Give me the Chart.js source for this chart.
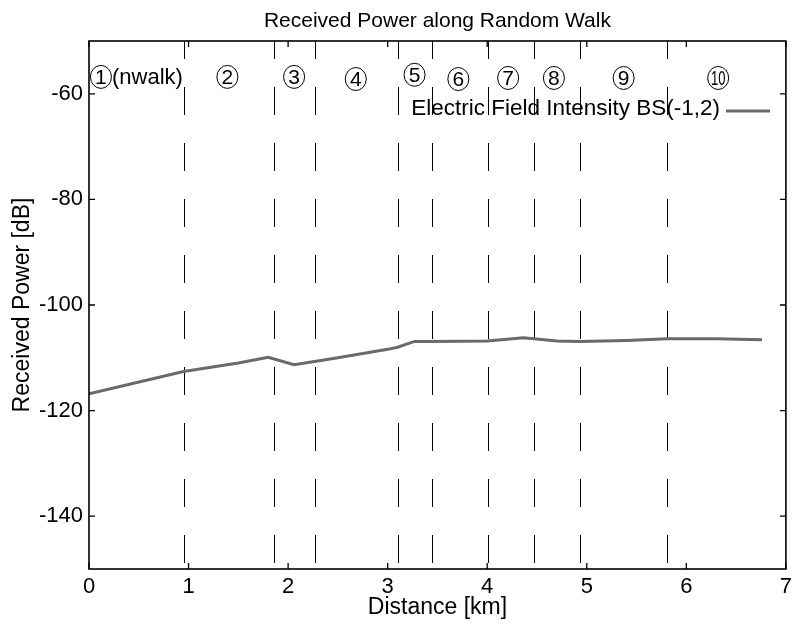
<!DOCTYPE html>
<html><head><meta charset="utf-8">
<script src="https://cdn.jsdelivr.net/npm/chart.js@4.4.1/dist/chart.umd.min.js"></script>
<style>html,body{margin:0;padding:0;background:#fff}canvas{display:block}</style>
</head><body>
<canvas id="c" width="797" height="628" style="width:797px;height:628px"></canvas>
<script>
const distanceKm = [0, 0.95, 1.5, 1.8, 2.06, 2.5, 3.0, 3.1, 3.27, 3.45, 4.0, 4.2, 4.36, 4.47, 4.7, 4.93, 5.4, 5.81, 6.3, 6.76];
const receivedPowerDb = [-116.8, -112.6, -111.0, -109.9, -111.3, -110.0, -108.4, -108.0, -106.9, -106.9, -106.8, -106.5, -106.2, -106.4, -106.8, -106.9, -106.7, -106.4, -106.4, -106.6];
const walkBoundariesKm = [0.95, 1.855, 2.27, 3.10, 3.45, 4.01, 4.47, 4.93, 5.81];
const walkLabels = ['1', '2', '3', '4', '5', '6', '7', '8', '9', '10'];
const walkLabelXKm = [0.12, 1.39, 2.06, 2.68, 3.27, 3.71, 4.21, 4.67, 5.37, 6.32];
const walkLabelYDb = [-56.8, -56.8, -56.8, -57.2, -56.4, -57.2, -57.0, -57.0, -57.0, -57.0];
const firstLabelSuffix = '(nwalk)';
const xTickValues = [0, 1, 2, 3, 4, 5, 6, 7];
const yTickValues = [-140, -120, -100, -80, -60];
const seriesName = 'Electric Field Intensity BS(-1,2)';
const chartTitle = 'Received Power along Random Walk';
const xAxisTitle = 'Distance [km]';
const yAxisTitle = 'Received Power [dB]';

const FONT = "'Liberation Sans', Arial, Helvetica, sans-serif";
const LINE_COLOR = '#6a6a6a';

const points = distanceKm.map((x, i) => ({x: x, y: receivedPowerDb[i]}));

const decor = {
  id: 'decor',
  beforeDatasetsDraw(chart) {
    const {ctx, chartArea: a, scales: {x}} = chart;
    ctx.save();
    ctx.strokeStyle = '#000';
    ctx.lineWidth = 1;
    ctx.setLineDash([28, 28]);
    ctx.lineDashOffset = 10;
    walkBoundariesKm.forEach(v => {
      const px = Math.round(x.getPixelForValue(v)) + 0.5;
      ctx.beginPath();
      ctx.moveTo(px, a.top);
      ctx.lineTo(px, a.bottom);
      ctx.stroke();
    });
    ctx.restore();
  },
  afterDraw(chart) {
    const {ctx, chartArea: a, scales: {x, y}} = chart;
    ctx.save();
    // title centred over the plot area
    ctx.fillStyle = '#000';
    ctx.font = '21px ' + FONT;
    ctx.textAlign = 'center';
    ctx.textBaseline = 'middle';
    ctx.fillText(chartTitle, (a.left + a.right) / 2, 21);
    // frame
    ctx.strokeStyle = '#000';
    ctx.lineWidth = 1.6;
    ctx.strokeRect(a.left, a.top, a.right - a.left, a.bottom - a.top);
    // inward ticks
    ctx.lineWidth = 1.3;
    const tl = 6;
    xTickValues.forEach(v => {
      const px = x.getPixelForValue(v);
      ctx.beginPath();
      ctx.moveTo(px, a.bottom); ctx.lineTo(px, a.bottom - tl);
      ctx.moveTo(px, a.top); ctx.lineTo(px, a.top + tl);
      ctx.stroke();
    });
    yTickValues.forEach(v => {
      const py = y.getPixelForValue(v);
      ctx.beginPath();
      ctx.moveTo(a.left, py); ctx.lineTo(a.left + tl, py);
      ctx.moveTo(a.right, py); ctx.lineTo(a.right - tl, py);
      ctx.stroke();
    });
    // circled walk labels
    ctx.lineWidth = 1;
    ctx.textBaseline = 'middle';
    walkLabels.forEach((t, i) => {
      const cx = x.getPixelForValue(walkLabelXKm[i]);
      const cy = y.getPixelForValue(walkLabelYDb[i]);
      ctx.beginPath();
      ctx.ellipse(cx, cy, 10.5, 11.5, 0, 0, Math.PI * 2);
      ctx.stroke();
      ctx.textAlign = 'center';
      ctx.font = '21px ' + FONT;
      if (t.length > 1) {
        ctx.save();
        ctx.translate(cx, cy + 1);
        ctx.scale(0.62, 1);
        ctx.fillText(t, 0, 0);
        ctx.restore();
      } else {
        ctx.fillText(t, cx, cy + 1);
      }
      if (i === 0) {
        ctx.textAlign = 'left';
        ctx.font = '22px ' + FONT;
        ctx.fillText(firstLabelSuffix, cx + 11, cy + 1);
      }
    });
    // legend
    ctx.font = '22.5px ' + FONT;
    ctx.textAlign = 'right';
    ctx.textBaseline = 'middle';
    ctx.fillText(seriesName, 720, 109);
    ctx.strokeStyle = LINE_COLOR;
    ctx.lineWidth = 3;
    ctx.beginPath();
    ctx.moveTo(726, 111); ctx.lineTo(770, 111);
    ctx.stroke();
    ctx.restore();
  }
};

new Chart(document.getElementById('c'), {
  type: 'scatter',
  data: {
    datasets: [{
      label: seriesName,
      data: points,
      showLine: true,
      borderColor: LINE_COLOR,
      borderWidth: 3,
      pointRadius: 0,
      tension: 0,
      fill: false
    }]
  },
  options: {
    responsive: false,
    animation: false,
    devicePixelRatio: 1,
    layout: {padding: {left: 0, right: 8, top: 41, bottom: 0}},
    plugins: {
      legend: {display: false},
      tooltip: {enabled: false},
      title: {display: false}
    },
    scales: {
      x: {
        type: 'linear',
        min: 0, max: 7,
        afterBuildTicks: s => { s.ticks = xTickValues.map(v => ({value: v})); },
        afterFit: s => { s.height = 59; },
        grid: {display: false, drawTicks: false},
        border: {display: false},
        ticks: {color: '#000', font: {family: FONT, size: 22}, padding: 5, maxRotation: 0},
        title: {display: true, text: xAxisTitle, color: '#000', font: {family: FONT, size: 23}, padding: {top: 0, bottom: 7}}
      },
      y: {
        type: 'linear',
        min: -150, max: -50,
        afterBuildTicks: s => { s.ticks = yTickValues.map(v => ({value: v})); },
        afterFit: s => { s.width = 89; },
        grid: {display: false, drawTicks: false},
        border: {display: false},
        ticks: {color: '#000', font: {family: FONT, size: 22}, padding: 6},
        title: {display: true, text: yAxisTitle, color: '#000', font: {family: FONT, size: 23}, padding: {top: 9, bottom: 0}}
      }
    }
  },
  plugins: [decor]
});
</script>
</body></html>
